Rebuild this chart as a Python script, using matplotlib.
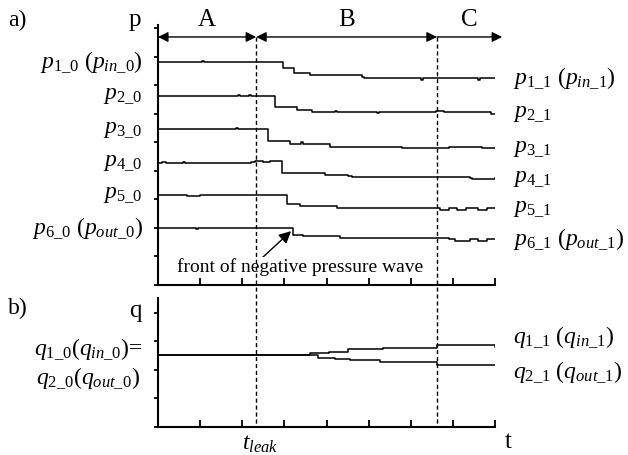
# -*- coding: utf-8 -*-

import matplotlib
matplotlib.use("Agg")
import matplotlib.pyplot as plt
from matplotlib.patches import FancyArrowPatch
from matplotlib.lines import Line2D
import matplotlib.transforms as mtransforms

plt.rcParams['font.family'] = ['Liberation Serif', 'DejaVu Serif']
plt.rcParams['mathtext.fontset'] = 'custom'
plt.rcParams['mathtext.rm'] = 'Liberation Serif'
plt.rcParams['mathtext.it'] = 'Liberation Serif:style=italic'

# time axis runs 0..8 (one unit per tick)
t_leak = 2.33
t_c = 6.62
t_end = 8.0

# pressure traces (step points: time, level)
p1_t = [0, 1.05, 1.1, 2.97, 3.23, 3.61, 4.85, 4.9, 6.25, 6.3, 7.6, 7.65, 8.0]
p1_v = [7.82, 7.86, 7.82, 7.61, 7.44, 7.37, 7.30, 7.26, 7.20, 7.26, 7.20, 7.26, 7.26]
p2_t = [0, 1.9, 1.95, 2.15, 2.2, 2.78, 3.30, 3.66, 4.2, 4.25, 5.2, 5.25, 6.6, 6.8, 7.9, 8.0]
p2_v = [6.63, 6.68, 6.63, 6.68, 6.63, 6.25, 6.14, 6.07, 6.11, 6.07, 6.02, 6.07, 6.12, 6.07, 6.0, 6.0]
p3_t = [0, 1.85, 1.9, 2.61, 3.13, 3.4, 3.45, 4.08, 5.75, 5.8, 6.9, 7.7, 8.0]
p3_v = [5.47, 5.52, 5.47, 5.05, 4.95, 5.0, 4.95, 4.84, 4.84, 4.79, 4.84, 4.80, 4.80]
p4_t = [0, 0.1, 0.2, 0.6, 0.65, 2.2, 2.3, 2.5, 2.65, 2.94, 3.96, 4.5, 4.6, 7.4, 7.45, 8.0]
p4_v = [4.28, 4.32, 4.28, 4.32, 4.28, 4.30, 4.34, 4.30, 4.34, 3.93, 3.86, 3.82, 3.79, 3.75, 3.71, 3.75]
p5_t = [0, 0.7, 1.0, 3.06, 3.37, 4.25, 6.7, 6.9, 7.1, 7.3, 7.6, 7.8, 8.0]
p5_v = [3.16, 3.12, 3.16, 2.84, 2.77, 2.70, 2.62, 2.70, 2.62, 2.70, 2.62, 2.70, 2.70]
p6_t = [0, 0.9, 0.95, 3.20, 3.44, 4.32, 6.9, 7.05, 7.4, 7.6, 7.8, 8.0]
p6_v = [2.00, 1.95, 2.00, 1.75, 1.72, 1.65, 1.61, 1.55, 1.61, 1.55, 1.61, 1.61]

p_series = [(p1_t, p1_v), (p2_t, p2_v), (p3_t, p3_v),
            (p4_t, p4_v), (p5_t, p5_v), (p6_t, p6_v)]
p_left = [r'$p_{1\_0}\ (p_{in\_0})$', r'$p_{2\_0}$', r'$p_{3\_0}$',
          r'$p_{4\_0}$', r'$p_{5\_0}$', r'$p_{6\_0}\ (p_{out\_0})$']
p_right = [r'$p_{1\_1}\ (p_{in\_1})$', r'$p_{2\_1}$', r'$p_{3\_1}$',
           r'$p_{4\_1}$', r'$p_{5\_1}$', r'$p_{6\_1}\ (p_{out\_1})$']

# flow traces
q1_t = [0, 3.6, 4.05, 4.51, 5.34, 6.62, 7.95, 8.0]
q1_v = [2.53, 2.60, 2.63, 2.74, 2.77, 2.88, 2.88, 2.82]
q2_t = [0, 3.6, 3.8, 4.2, 4.56, 5.27, 6.62, 8.0]
q2_v = [2.53, 2.53, 2.42, 2.39, 2.35, 2.28, 2.18, 2.18]

FS = 17

fig = plt.figure(figsize=(6.28, 4.55), dpi=100)
ax_a = fig.add_axes([158/628, 170/455, 337/628, 260/455])
ax_b = fig.add_axes([158/628, 28/455, 337/628, 129/455])

for ax, top, nticks in ((ax_a, 9.12, 10), (ax_b, 4.52, 5)):
    ax.set_xlim(0, t_end)
    ax.set_ylim(0, top)
    ax.spines['top'].set_visible(False)
    ax.spines['right'].set_visible(False)
    ax.spines['left'].set_linewidth(1.5)
    ax.spines['bottom'].set_linewidth(1.5)
    ax.set_xticks(range(9))
    ax.set_yticks(range(nticks))
    ax.tick_params(axis='x', direction='in', length=5, width=1.3,
                   labelbottom=False)
    ax.tick_params(axis='y', direction='out', length=3, width=1.3,
                   labelleft=False)

# pressure lines and labels
ya = mtransforms.blended_transform_factory(ax_a.transAxes, ax_a.transData)
for (tt, vv), ll, rl in zip(p_series, p_left, p_right):
    ax_a.plot(tt, vv, drawstyle='steps-post', color='black', lw=1.1)
    ax_a.text(-0.045, vv[0], ll, transform=ya, ha='right', va='center',
              fontsize=FS)
    ax_a.text(1.053, vv[-1], rl, transform=ya, ha='left', va='center',
              fontsize=FS)

ax_b.plot(q1_t, q1_v, drawstyle='steps-post', color='black', lw=1.1)
ax_b.plot(q2_t, q2_v, drawstyle='steps-post', color='black', lw=1.1)

yb = mtransforms.blended_transform_factory(ax_b.transAxes, ax_b.transData)
ax_b.text(-0.045, q1_v[0] + 0.2, r'$q_{1\_0}(q_{in\_0})$=', transform=yb,
          ha='right', va='center', fontsize=FS)
ax_b.text(-0.055, q2_v[0] - 0.8, r'$q_{2\_0}(q_{out\_0})$', transform=yb,
          ha='right', va='center', fontsize=FS)
ax_b.text(1.053, q1_v[-1] + 0.35, r'$q_{1\_1}\ (q_{in\_1})$', transform=yb,
          ha='left', va='center', fontsize=FS)
ax_b.text(1.053, q2_v[-1] - 0.25, r'$q_{2\_1}\ (q_{out\_1})$', transform=yb,
          ha='left', va='center', fontsize=FS)

# axis letters
ax_a.text(-0.05, 1.02, 'p', transform=ax_a.transAxes, ha='right',
          va='center', fontsize=FS + 1)
ax_b.text(-0.05, 0.9, 'q', transform=ax_b.transAxes, ha='right',
          va='center', fontsize=FS + 1)
ax_b.text(1.04, -0.12, 't', transform=ax_b.transAxes, ha='center',
          va='center', fontsize=FS + 1)
ax_b.text(t_leak + 0.1, -0.05, r'$t_{leak}$', transform=ax_b.get_xaxis_transform(),
          ha='center', va='top', fontsize=FS)
fig.text(8/628, 1 - 20/455, 'a)', fontsize=FS, va='center')
fig.text(8/628, 1 - 308/455, 'b)', fontsize=FS, va='center')

# phase arrows A, B, C
arrow_y = 8.70
for x0, x1, lab, style in ((0, t_leak, 'A', '<|-|>'),
                            (t_leak, t_c, 'B', '<|-|>'),
                            (t_c, 8.17, 'C', '-|>')):
    fap = FancyArrowPatch((x0, arrow_y), (x1, arrow_y), arrowstyle=style,
                          mutation_scale=15, color='black', lw=1.0,
                          shrinkA=0, shrinkB=0, clip_on=False,
                          transform=ax_a.transData)
    ax_a.add_patch(fap)
    ax_a.text((x0 + x1) / 2, arrow_y + 0.2, lab, ha='center', va='bottom',
              fontsize=FS + 1)

# dashed boundaries across both panels
xf = mtransforms.blended_transform_factory(ax_a.transData, fig.transFigure)
for xb in (t_leak, t_c):
    fig.add_artist(Line2D([xb, xb], [1 - 37/455, 28/455], transform=xf,
                          color='black', lw=1.0, ls=(0, (3, 2))))

# pressure wave annotation
ax_a.annotate('', xy=(3.16, 1.89), xytext=(2.47, 0.95),
              arrowprops=dict(arrowstyle='-|>', color='black', lw=1.0,
                              mutation_scale=18, shrinkA=0, shrinkB=0))
ax_a.text(3.37, 0.63, 'front of negative pressure wave', ha='center',
          va='center', fontsize=14,
          bbox=dict(facecolor='white', edgecolor='none', pad=0.5))

fig.savefig('out.png', dpi=100)
